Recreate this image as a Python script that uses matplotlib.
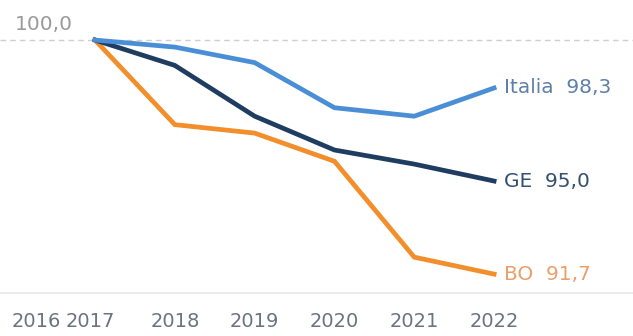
import matplotlib
matplotlib.use("Agg")
import matplotlib.pyplot as plt

# indice base 2017 = 100
years = [2017, 2018, 2019, 2020, 2021, 2022]
italia = [100.0, 99.75, 99.2, 97.6, 97.3, 98.3]
ge = [100.0, 99.1, 97.3, 96.1, 95.6, 95.0]
bo = [100.0, 97.0, 96.7, 95.7, 92.3, 91.7]

tick_labels = ['2016', '2017', '2018', '2019', '2020', '2021', '2022']
tick_pos = [2016.27, 2016.94, 2018, 2019, 2020, 2021, 2022]

series = [
    ('BO', bo, '#f28e2b', '#e9a06c'),
    ('GE', ge, '#1f3d60', '#34506f'),
    ('Italia', italia, '#4a8fd6', '#5d7fa8'),
]

fig = plt.figure(figsize=(6.33, 3.36), dpi=100)
ax = fig.add_axes([0, 0.128, 1, 0.872])

ax.axhline(100, color='#cfcfcf', lw=1, ls=(0, (4, 3)), zorder=1)

for name, vals, col, tcol in series:
    ax.plot(years, vals, color=col, lw=3.4, solid_joinstyle='miter', zorder=3)
    ax.text(years[-1] + 0.13, vals[-1], name + '  ' + ('%.1f' % vals[-1]).replace('.', ','),
            color=tcol, fontsize=14.5, va='center', ha='left')

ax.text(2016.0, 100.2, '100,0', color='#9a9a9a', fontsize=14.5, va='bottom', ha='left')

ax.set_xlim(2015.81, 2023.74)
ax.set_ylim(91.03, 101.42)
ax.set_yticks([])
ax.set_xticks(tick_pos)
ax.set_xticklabels(tick_labels, fontsize=14, color='#6b7380')
ax.tick_params(axis='x', length=0, pad=14)
for s in ['top', 'left', 'right']:
    ax.spines[s].set_visible(False)
ax.spines['bottom'].set_color('#e8e8e8')
ax.spines['bottom'].set_linewidth(1.2)

fig.savefig('out.png', dpi=100)
